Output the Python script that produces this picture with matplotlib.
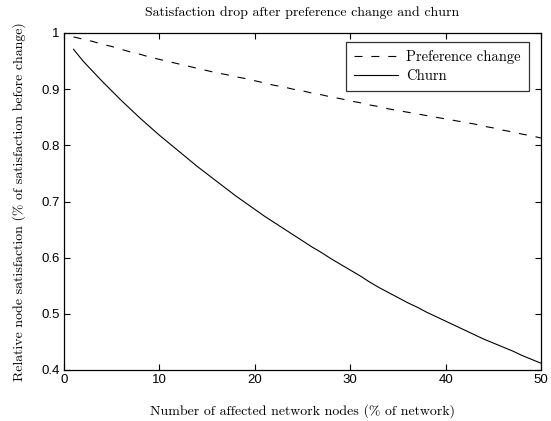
import matplotlib
matplotlib.use("Agg")
import matplotlib.pyplot as plt

# Share of the network affected (%)
affected_nodes = list(range(1, 51))

# Relative satisfaction after a preference change
preference_change = [
    0.993, 0.989, 0.985, 0.980, 0.976, 0.971, 0.966, 0.962, 0.957, 0.953,
    0.949, 0.945, 0.941, 0.937, 0.933, 0.929, 0.926, 0.922, 0.919, 0.915,
    0.911, 0.907, 0.904, 0.900, 0.897, 0.893, 0.890, 0.886, 0.883, 0.879,
    0.876, 0.872, 0.869, 0.865, 0.862, 0.859, 0.856, 0.853, 0.850, 0.847,
    0.844, 0.841, 0.838, 0.834, 0.831, 0.827, 0.824, 0.820, 0.817, 0.813,
]

# Relative satisfaction after churn
churn = [
    0.971, 0.950, 0.932, 0.914, 0.897, 0.880, 0.864, 0.848, 0.833, 0.818,
    0.804, 0.790, 0.776, 0.762, 0.749, 0.736, 0.723, 0.710, 0.698, 0.686,
    0.674, 0.663, 0.652, 0.641, 0.630, 0.619, 0.609, 0.598, 0.588, 0.578,
    0.568, 0.557, 0.547, 0.538, 0.529, 0.520, 0.512, 0.503, 0.495, 0.487,
    0.479, 0.471, 0.463, 0.455, 0.448, 0.441, 0.434, 0.426, 0.419, 0.412,
]

x_ticks = [0, 10, 20, 30, 40, 50]
y_ticks = [0.4, 0.5, 0.6, 0.7, 0.8, 0.9, 1.0]
y_tick_labels = ["0.4", "0.5", "0.6", "0.7", "0.8", "0.9", "1"]

serif = ["cmr10", "DejaVu Serif"]
plt.rcParams["axes.formatter.use_mathtext"] = True
plt.rcParams["mathtext.fontset"] = "cm"

fig = plt.figure(figsize=(5.51, 4.21), dpi=100)
ax = fig.add_axes([64 / 551, 1 - 370 / 421, 477 / 551, 337 / 421])

ax.plot(affected_nodes, preference_change, color="black", lw=0.8,
        linestyle=(0, (7.2, 8.0)), label="Preference change")
ax.plot(affected_nodes, churn, color="black", lw=0.8, label="Churn")

ax.set_xlim(0, 50)
ax.set_ylim(0.4, 1.0)
ax.set_xticks(x_ticks)
ax.set_xticklabels([str(t) for t in x_ticks])
ax.set_yticks(y_ticks)
ax.set_yticklabels(y_tick_labels)

for lbl in ax.get_xticklabels() + ax.get_yticklabels():
    lbl.set_fontfamily("Liberation Sans")
    lbl.set_fontsize(9.5)

ax.tick_params(direction="in", length=4, width=0.8, top=True, right=True,
               pad=3)
for s in ax.spines.values():
    s.set_linewidth(0.9)

ax.set_title("Satisfaction drop after preference change and churn",
             family=serif, fontsize=10, pad=12)
ax.set_xlabel("Number of affected network nodes (% of network)",
              family=serif, fontsize=10, labelpad=13)
ax.set_ylabel("Relative node satisfaction (% of satisfaction before change)",
              family=serif, fontsize=10, labelpad=11)

leg = ax.legend(loc="upper right", prop={"family": serif, "size": 10.5},
                frameon=True, fancybox=False, edgecolor="black",
                handlelength=3.0, handletextpad=0.6, borderpad=0.55,
                labelspacing=0.35, borderaxespad=0,
                bbox_to_anchor=(1 - 12 / 477, 1 - 9 / 337))
leg.get_frame().set_linewidth(0.9)

fig.savefig("out.png", dpi=100, facecolor="white")
